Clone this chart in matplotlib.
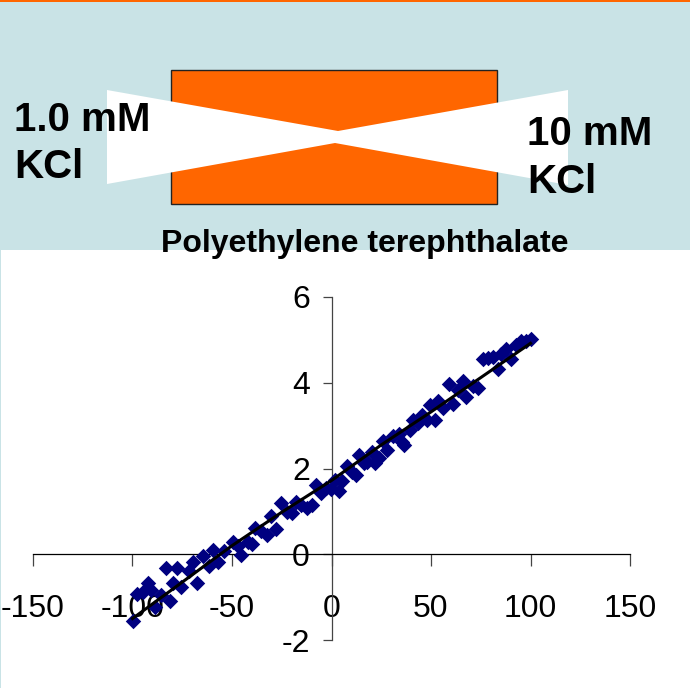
import matplotlib
matplotlib.use("Agg")
import matplotlib.pyplot as plt
from matplotlib.patches import Rectangle, Polygon

# measured points (x, y)
x_vals = [-99.7, -97.5, -94.7, -92.0, -90.5, -88.5, -85.8, -83.0, -81.3, -79.7,
          -77.5, -75.5, -71.8, -69.7, -67.5, -64.7, -61.8, -59.7, -57.2, -54.2,
          -49.7, -47.2, -45.5, -42.2, -39.7, -38.5, -35.5, -32.2, -30.5, -28.0,
          -25.5, -22.2, -19.7, -18.0, -15.5, -12.2, -9.7, -8.0, -5.5, -3.0,
          -0.5, 2.0, 3.7, 5.3, 7.8, 10.3, 12.5, 13.7, 16.2, 17.8,
          20.3, 22.0, 23.7, 25.8, 27.8, 30.8, 33.7, 35.3, 36.2, 39.5,
          41.2, 43.7, 45.3, 47.8, 49.5, 52.0, 53.7, 56.2, 59.2, 61.2,
          63.7, 66.2, 67.8, 71.2, 73.7, 76.2, 78.7, 81.2, 83.7, 85.3,
          87.8, 90.3, 92.8, 95.3, 97.8, 100.0]
y_vals = [-1.55, -0.92, -0.88, -0.68, -0.84, -1.22, -0.95, -0.32, -1.09, -0.68,
          -0.32, -0.76, -0.40, -0.17, -0.66, -0.03, -0.28, 0.11, -0.17, 0.08,
          0.28, 0.20, -0.02, 0.28, 0.24, 0.62, 0.55, 0.45, 0.89, 0.60,
          1.20, 0.98, 0.97, 1.22, 1.14, 1.08, 1.16, 1.62, 1.43, 1.55,
          1.52, 1.74, 1.47, 1.70, 2.05, 1.93, 1.85, 2.32, 2.12, 2.14,
          2.39, 2.12, 2.24, 2.65, 2.43, 2.75, 2.80, 2.62, 2.55, 2.89,
          3.12, 3.05, 3.24, 3.12, 3.47, 3.14, 3.58, 3.42, 3.97, 3.51,
          3.82, 4.05, 3.66, 3.93, 3.88, 4.55, 4.57, 4.60, 4.32, 4.68,
          4.78, 4.55, 4.89, 4.97, 4.98, 5.03]

trend_x = [-100, -75, -50, -25, 0, 25, 50, 75, 100]
trend_y = [-1.50, -0.65, 0.20, 0.98, 1.72, 2.55, 3.32, 4.12, 4.92]

x_ticks = [-150, -100, -50, 0, 50, 100, 150]
y_ticks = [-2, 0, 2, 4, 6]

W, H = 690, 688
blue = "#c9e3e6"
orange = "#ff6600"

fig = plt.figure(figsize=(W / 100, H / 100), dpi=100)
fig.patch.set_facecolor(blue)

# background / diagram layer in pixel coordinates
bg = fig.add_axes([0, 0, 1, 1])
bg.set_xlim(0, W)
bg.set_ylim(H, 0)
bg.axis("off")
bg.add_patch(Rectangle((0, 0), W, 1.5, color=orange, lw=0))
bg.add_patch(Rectangle((1, 250), W, H - 250, color="white", lw=0))
bg.add_patch(Rectangle((171, 70), 326, 134, facecolor=orange,
                       edgecolor="#222222", lw=1))
bg.add_patch(Polygon([(107, 90), (338, 131), (568, 90), (568, 185),
                      (335, 143), (107, 184)], closed=True,
                     facecolor="white", edgecolor="none"))

bold = dict(family="Liberation Sans", fontweight="bold", color="black")
bg.text(14, 131, "1.0 mM", fontsize=29, va="baseline", ha="left", **bold)
bg.text(14, 178, "KCl", fontsize=29, va="baseline", ha="left", **bold)
bg.text(527, 145, "10 mM", fontsize=29, va="baseline", ha="left", **bold)
bg.text(527, 193, "KCl", fontsize=29, va="baseline", ha="left", **bold)
bg.text(365, 252, "Polyethylene terephthalate", fontsize=23,
        va="baseline", ha="center", **bold)

# chart
ax = fig.add_axes([33 / W, 1 - 640 / H, (630 - 33) / W, (640 - 297) / H])
ax.patch.set_alpha(0)
ax.set_xlim(-150, 150)
ax.set_ylim(-2, 6)

ax.scatter(x_vals, y_vals, marker="D", s=62, color="#000080",
           linewidths=0, zorder=3)
ax.plot(trend_x, trend_y, color="black", lw=2.2, zorder=4)

for s in ["top", "right"]:
    ax.spines[s].set_visible(False)
ax.spines["left"].set_position(("data", 0))
ax.spines["bottom"].set_position(("data", 0))
ax.spines["left"].set_color("#444444")
ax.spines["left"].set_linewidth(0.9)
ax.spines["bottom"].set_linewidth(0.9)

ax.set_xticks(x_ticks)
ax.set_yticks(y_ticks)
ax.set_xticklabels([str(v) for v in x_ticks])
ax.set_yticklabels([str(v) for v in y_ticks])
ax.tick_params(axis="x", direction="out", length=8.5, width=0.9,
               color="#444444", pad=20)
ax.tick_params(axis="y", direction="out", length=6.5, width=0.9,
               color="#444444", pad=9)
narrow = ["Liberation Sans Narrow", "Liberation Sans"]
for lab in ax.get_xticklabels() + ax.get_yticklabels():
    lab.set_family(narrow)
    lab.set_fontsize(23)

fig.savefig("out.png", dpi=100, facecolor=fig.get_facecolor())
